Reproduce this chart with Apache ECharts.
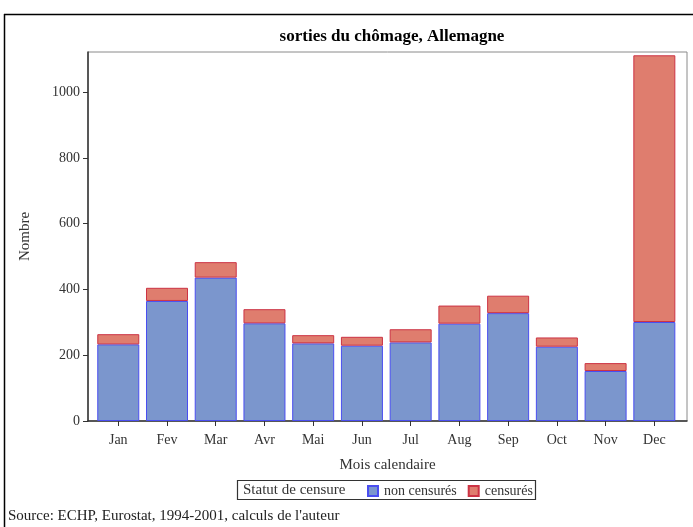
<!DOCTYPE html>
<html>
<head>
<meta charset="utf-8">
<script src="https://cdn.jsdelivr.net/npm/echarts@6/dist/echarts.min.js"></script>
<style>html,body{margin:0;padding:0;background:#fff}#c{width:693px;height:527px}</style>
</head>
<body>
<div id="c"></div>
<script>
const months = ['Jan','Fev','Mar','Avr','Mai','Jun','Jul','Aug','Sep','Oct','Nov','Dec'];
const nonCensures = [233, 365, 436, 297, 236, 229, 239, 296, 328, 226, 152, 301];
const censures = [31, 40, 47, 43, 25, 27, 40, 55, 53, 28, 24, 811];
const yTicks = [0, 200, 400, 600, 800, 1000];

const FONT = '"Liberation Serif", "DejaVu Serif", serif';
const Y_MAX = 1122;
const chart = echarts.init(document.getElementById('c'), null, {renderer: 'canvas'});
chart.setOption({
  animation: false,
  backgroundColor: '#fff',
  textStyle: {fontFamily: FONT},
  title: {
    text: 'sorties du chômage, Allemagne',
    left: 387, top: 23, textAlign: 'center',
    textStyle: {fontFamily: FONT, fontSize: 17, fontWeight: 'bold', color: '#000'}
  },
  grid: [
    {left: 88, right: 6, top: 52, bottom: 106, show: true, borderColor: '#8a8a8a', borderWidth: 1, backgroundColor: 'transparent'},
    {left: 93.9, right: 14.3, top: 52, bottom: 106, show: false}
  ],
  xAxis: [
    {
      type: 'value', gridIndex: 0, min: 0, max: 1,
      name: 'Mois calendaire', nameLocation: 'middle', nameGap: 37,
      nameTextStyle: {fontFamily: FONT, fontSize: 15, color: '#333'},
      axisLine: {show: true, onZero: false, lineStyle: {color: '#333', width: 1.5}},
      axisTick: {show: false}, axisLabel: {show: false}, splitLine: {show: false}
    },
    {
      type: 'category', gridIndex: 1, data: months,
      axisLine: {show: false},
      axisTick: {show: true, alignWithLabel: true, length: 5, lineStyle: {color: '#333'}},
      axisLabel: {fontFamily: FONT, fontSize: 14, color: '#333', margin: 12},
      splitLine: {show: false}
    }
  ],
  yAxis: [
    {
      type: 'value', gridIndex: 0, min: 0, max: Y_MAX,
      name: 'Nombre', nameLocation: 'middle', nameGap: 55,
      nameTextStyle: {fontFamily: FONT, fontSize: 15, color: '#333'},
      axisLine: {show: true, onZero: false, lineStyle: {color: '#333', width: 1.5}},
      axisTick: {show: true, customValues: yTicks, length: 5, lineStyle: {color: '#333'}},
      axisLabel: {customValues: yTicks, formatter: v => String(v), fontFamily: FONT, fontSize: 14, color: '#333', margin: 8},
      splitLine: {show: false}
    },
    {
      type: 'value', gridIndex: 1, min: 0, max: Y_MAX, show: false, splitLine: {show: false}
    }
  ],
  legend: {
    left: 367, top: 484, padding: 0, itemWidth: 10, itemHeight: 10, itemGap: 11,
    icon: 'rect',
    textStyle: {fontFamily: FONT, fontSize: 14, color: '#333', padding: [0, 0, 0, 1]},
    data: ['non censurés', 'censurés']
  },
  graphic: [
    {type: 'line', shape: {x1: 4, y1: 14.5, x2: 693, y2: 14.5}, style: {stroke: '#000', lineWidth: 1.5}},
    {type: 'line', shape: {x1: 4.5, y1: 14, x2: 4.5, y2: 527}, style: {stroke: '#000', lineWidth: 1.5}},
    {type: 'rect', shape: {x: 237.5, y: 480.5, width: 298, height: 19}, style: {fill: 'none', stroke: '#333', lineWidth: 1.2}},
    {type: 'text', left: 243, top: 483, style: {text: 'Statut de censure', font: '15px ' + FONT, fill: '#333'}},
    {type: 'text', left: 8, top: 509, style: {text: "Source: ECHP, Eurostat, 1994-2001, calculs de l'auteur", font: '15px ' + FONT, fill: '#222'}}
  ],
  series: [
    {
      name: 'non censurés', type: 'bar', stack: 'tot', barWidth: 42, xAxisIndex: 1, yAxisIndex: 1,
      itemStyle: {color: '#7b96cd', borderColor: '#4a4ef0', borderWidth: 1},
      data: nonCensures
    },
    {
      name: 'censurés', type: 'bar', stack: 'tot', barWidth: 42, xAxisIndex: 1, yAxisIndex: 1,
      itemStyle: {color: '#df7d6e', borderColor: '#cc3344', borderWidth: 1},
      data: censures
    }
  ]
});
</script>
</body>
</html>
